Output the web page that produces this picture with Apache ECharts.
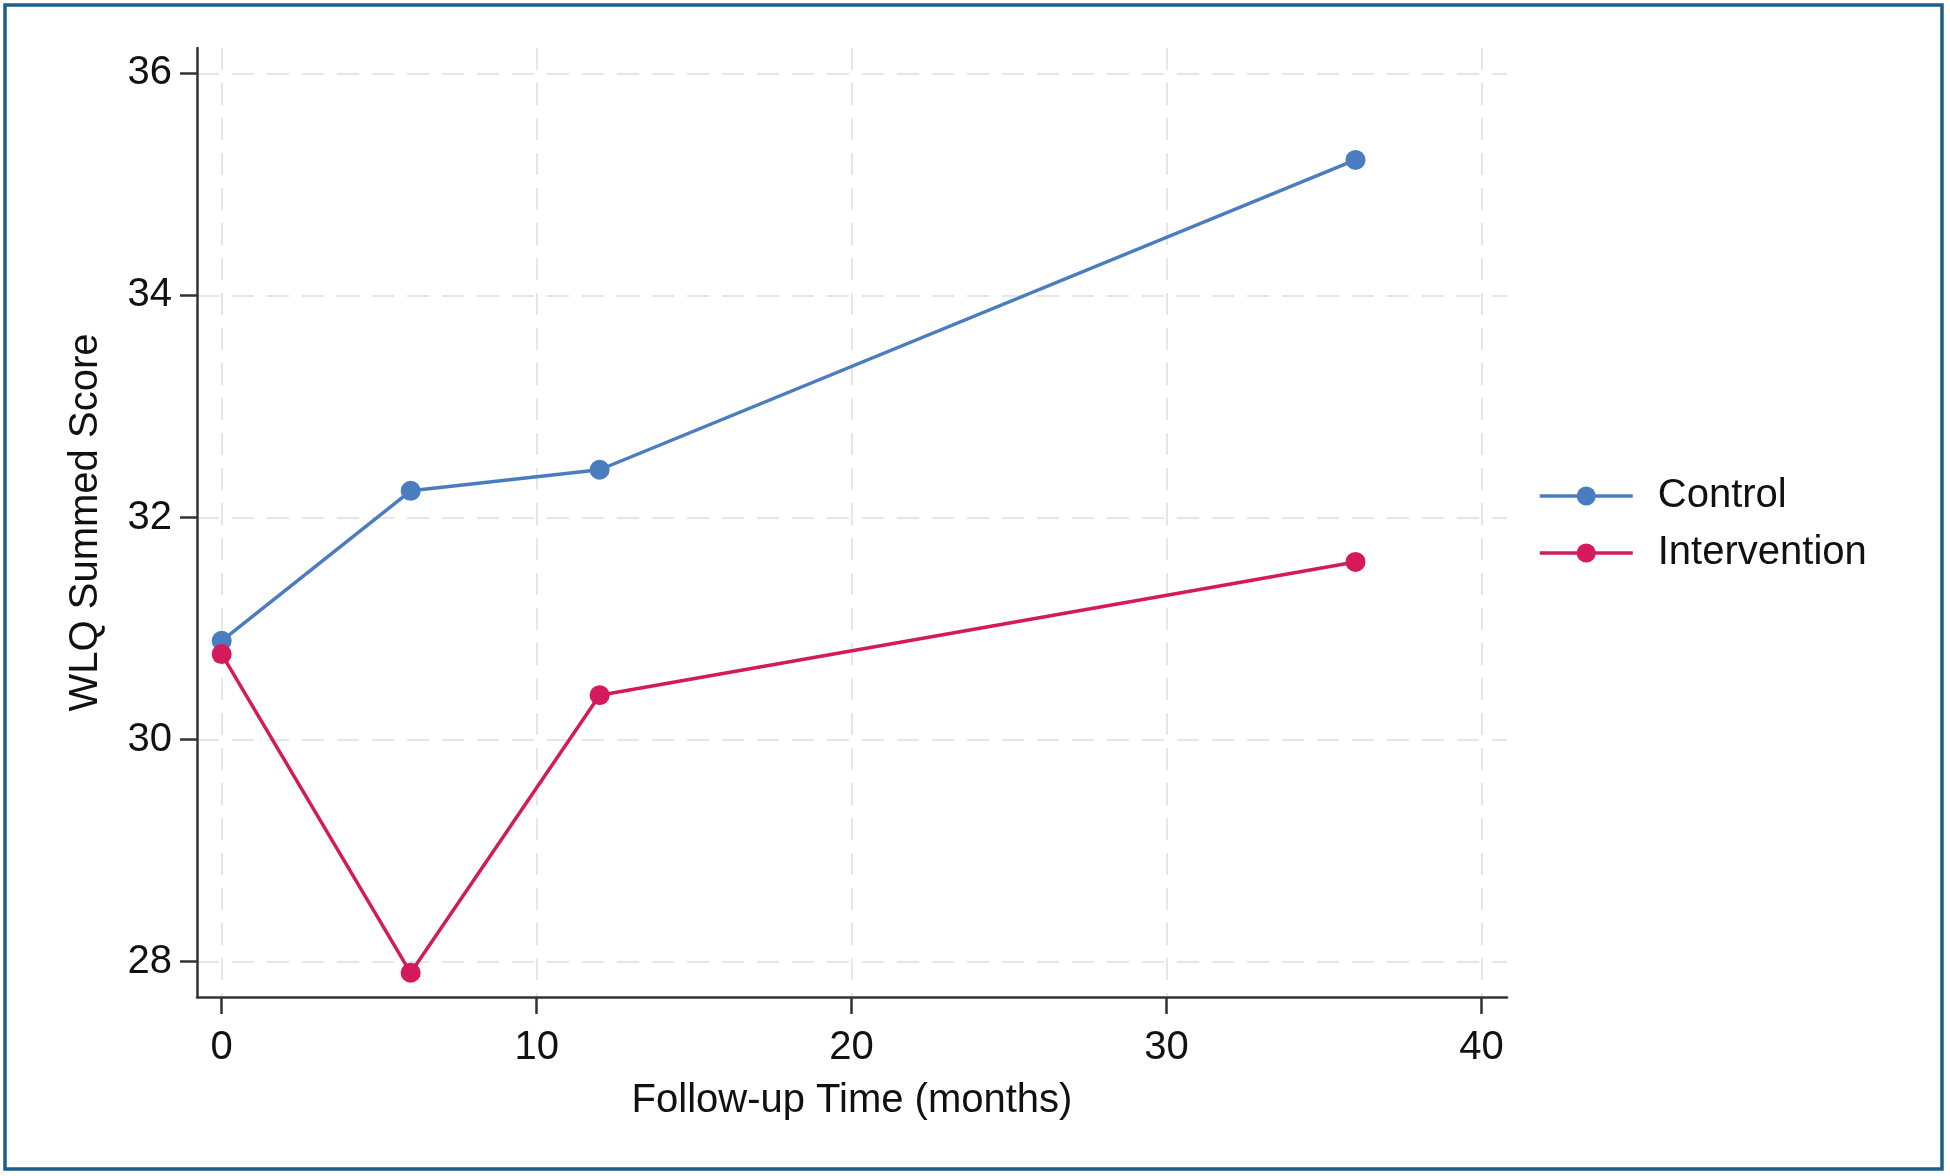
<!DOCTYPE html>
<html>
<head>
<meta charset="utf-8">
<script src="https://cdn.jsdelivr.net/npm/echarts@6/dist/echarts.min.js"></script>
<style>
html,body{margin:0;padding:0;background:#fff;}
#chart{width:1950px;height:1176px;}
</style>
</head>
<body>
<div id="chart"></div>
<script>
// Data
const months = [0, 6, 12, 36];
const controlScores = [30.89, 32.24, 32.43, 35.22];
const interventionScores = [30.77, 27.90, 30.40, 31.60];
const xTickValues = [0, 10, 20, 30, 40];
const yTickValues = [28, 30, 32, 34, 36];
const seriesNames = ['Control', 'Intervention'];

const FONT = '"Liberation Sans", Arial, sans-serif';
const chart = echarts.init(document.getElementById('chart'), null, {renderer: 'canvas'});

function pairs(xs, ys) { return xs.map((x, i) => [x, ys[i]]); }

const gridLine = {show: true, lineStyle: {color: '#e6e6e6', width: 2, type: [22, 13]}};

const option = {
  backgroundColor: '#ffffff',
  animation: false,
  graphic: [{
    type: 'rect',
    shape: {x: 5, y: 5, width: 1937, height: 1164},
    style: {fill: 'none', stroke: '#1d5f8a', lineWidth: 3.5},
    silent: true
  }],
  grid: {left: 197, right: 443, top: 48, bottom: 179, containLabel: false},
  legend: {
    data: seriesNames,
    orient: 'vertical',
    left: 1533,
    top: 471,
    itemWidth: 93,
    itemHeight: 24,
    itemGap: 17,
    lineStyle: {width: 3.5},
    textStyle: {fontFamily: FONT, fontSize: 40, color: '#111', padding: [0, 0, 0, 20]}
  },
  xAxis: {
    type: 'value',
    min: -0.784,
    max: 40.81,
    name: 'Follow-up Time (months)',
    nameLocation: 'middle',
    nameGap: 84,
    nameTextStyle: {fontFamily: FONT, fontSize: 40, color: '#111'},
    axisLine: {show: true, onZero: false, lineStyle: {color: '#333', width: 2.5}},
    axisTick: {show: true, length: 17, lineStyle: {color: '#333', width: 2.5}, customValues: xTickValues},
    axisLabel: {fontFamily: FONT, fontSize: 40, color: '#111', margin: 31, customValues: xTickValues},
    splitLine: gridLine
  },
  yAxis: {
    type: 'value',
    min: 27.682,
    max: 36.228,
    name: 'WLQ Summed Score',
    nameLocation: 'middle',
    nameRotate: 90,
    nameGap: 91,
    nameTextStyle: {fontFamily: FONT, fontSize: 40, color: '#111'},
    axisLine: {show: true, onZero: false, lineStyle: {color: '#333', width: 2.5}},
    axisTick: {show: true, length: 17, lineStyle: {color: '#333', width: 2.5}, customValues: yTickValues},
    axisLabel: {fontFamily: FONT, fontSize: 40, color: '#111', margin: 25, customValues: yTickValues},
    splitLine: gridLine
  },
  series: [
    {
      name: seriesNames[0],
      type: 'line',
      data: pairs(months, controlScores),
      symbol: 'circle',
      symbolSize: 20,
      lineStyle: {color: '#4a7cc0', width: 3.5},
      itemStyle: {color: '#4a7cc0'},
      z: 3
    },
    {
      name: seriesNames[1],
      type: 'line',
      data: pairs(months, interventionScores),
      symbol: 'circle',
      symbolSize: 20,
      lineStyle: {color: '#d41a5a', width: 3.5},
      itemStyle: {color: '#d41a5a'},
      z: 4
    }
  ]
};
chart.setOption(option);
</script>
</body>
</html>
